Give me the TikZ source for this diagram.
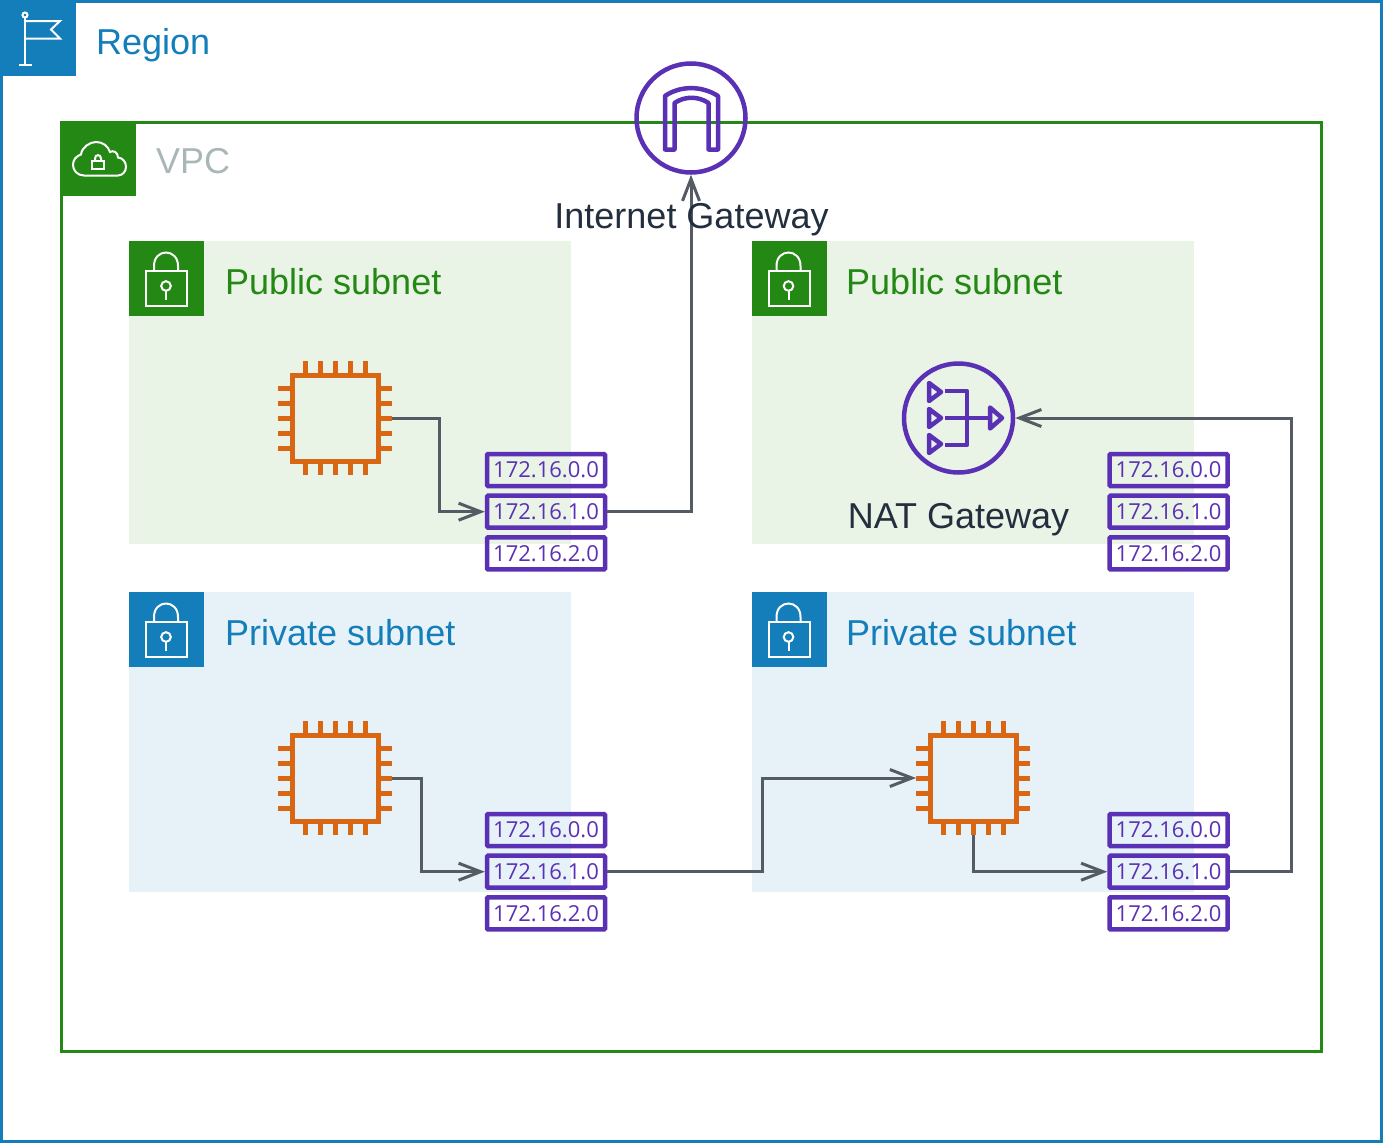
\documentclass[tikz,border=0pt]{standalone}
\usepackage{fontspec}
\setmainfont{Liberation Sans}
\newfontfamily\ipfont{Open Sans}
\usetikzlibrary{arrows.meta}
\definecolor{awsblue}{HTML}{147EBA}
\definecolor{awsgreen}{HTML}{248814}
\definecolor{pubfill}{HTML}{E9F3E6}
\definecolor{privfill}{HTML}{E6F2F8}
\definecolor{awspurple}{HTML}{5A30B5}
\definecolor{awsorange}{HTML}{D86613}
\definecolor{conncol}{HTML}{545B64}
\definecolor{inktext}{HTML}{232F3E}
\definecolor{vpcgrey}{HTML}{AAB7B8}
\tikzset{
  x=1pt,y=-1pt,
  big/.style={font=\fontsize{36}{40}\selectfont,anchor=base west,inner sep=0pt},
  bigc/.style={font=\fontsize{36}{40}\selectfont,anchor=base,inner sep=0pt,text=inktext},
  tab/.style={anchor=north west,minimum size=75pt,inner sep=0pt,outer sep=0pt,fill=#1},
  ipbox/.style={draw=awspurple,line width=4.5pt,rounded corners=1pt,minimum width=118pt,minimum height=32pt,inner sep=0pt,
    font=\ipfont\fontsize{22}{24}\selectfont,text=awspurple},
  chipanchor/.style={minimum size=114pt,inner sep=0pt,outer sep=0pt},
  conn/.style={draw=conncol,line width=3pt,-{Straight Barb[length=22pt,width=17pt,line width=3pt]}},
  iconline/.style={draw=white,line width=2pt},
  pics/padlock/.style={code={
    \draw[iconline] (17,30) rectangle (58,65);
    \draw[iconline] (25,30) -- (25,25) .. controls (25,7) and (49,7) .. (49,25) -- (49,30);
    \draw[iconline] (37,45) circle[radius=4.8pt];
    \draw[iconline] (37,50) -- (37,59);
  }},
  pics/chip/.style={code={
    \draw[draw=awsorange,line width=5pt] (-43,-43) rectangle (43,43);
    \foreach \d in {-30,-15,0,15,30}{
      \draw[draw=awsorange,line width=5pt] (\d,-57) -- (\d,-45);
      \draw[draw=awsorange,line width=5pt] (\d,45) -- (\d,57);
      \draw[draw=awsorange,line width=5pt] (-57,\d) -- (-45,\d);
      \draw[draw=awsorange,line width=5pt] (45,\d) -- (57,\d);
    }
  }},
}
\newcommand{\iptext}[1]{\raisebox{-2pt}{#1}}
\begin{document}
\begin{tikzpicture}
\useasboundingbox (0,0) rectangle (1383,1143);
\fill[white] (0,0) rectangle (1383,1143);
% Region
\draw[awsblue,line width=3pt] (1.5,1.5) rectangle (1381.5,1141.5);
\node[tab=awsblue] (regiontab) at (1,1) {};
\begin{scope}[line join=miter]
\draw[iconline] (25,17.5) -- (25,65);
\draw[iconline] (25,15) circle[radius=2.5pt];
\draw[iconline] (19,65) -- (32,65);
\draw[iconline] (25,21) -- (60,21) -- (51,29.5) -- (60,38.5) -- (25,38.5);
\end{scope}
\node[big,text=awsblue] (regionlabel) at (96,54) {Region};
% VPC
\draw[awsgreen,line width=3pt] (61.5,122.5) rectangle (1321.5,1051.5);
\node[tab=awsgreen] (vpctab) at (61,121) {};
\draw[iconline] (84,175.5) .. controls (77,175.5) and (73,170) .. (73,165)
  .. controls (73,160) and (76,156) .. (81,154.5)
  .. controls (82,147) and (90,142) .. (96,142)
  .. controls (103,142) and (108,146) .. (110,152)
  .. controls (113,150) and (118,152) .. (118,157.5)
  .. controls (123,158) and (126,162) .. (126,167)
  .. controls (126,172) and (122,175.5) .. (118,175.5) -- cycle;
\draw[iconline] (92,161) rectangle (104,168.5);
\draw[iconline] (95,161) -- (95,158.5) .. controls (95,154) and (101,154) .. (101,158.5) -- (101,161);
\node[big,text=vpcgrey] (vpclabel) at (156,173) {VPC};
% Subnets
\fill[pubfill] (129,241) rectangle (571,544);
\fill[pubfill] (751.5,241) rectangle (1194,544);
\fill[privfill] (129,592) rectangle (571,892);
\fill[privfill] (751.5,592) rectangle (1194,892);
\node[tab=awsgreen] (tabA) at (129,241) {};
\node[tab=awsgreen] (tabB) at (751.5,241) {};
\node[tab=awsblue] (tabC) at (129,592) {};
\node[tab=awsblue] (tabD) at (751.5,592) {};
\pic at (129,241) {padlock};
\pic at (751.5,241) {padlock};
\pic at (129,592) {padlock};
\pic at (751.5,592) {padlock};
\node[big,text=awsgreen] (labA) at (225,294) {Public subnet};
\node[big,text=awsgreen] (labB) at (846,294) {Public subnet};
\node[big,text=awsblue] (labC) at (225,645) {Private subnet};
\node[big,text=awsblue] (labD) at (846,645) {Private subnet};
% Chips
\node[chipanchor] (chipA) at (335,418) {};
\node[chipanchor] (chipC) at (335,778) {};
\node[chipanchor] (chipD) at (973,778) {};
\pic at (335,418) {chip};
\pic at (335,778) {chip};
\pic at (973,778) {chip};
% IP tables
\foreach \nm/\xx/\yy in {A/546/470,B/1168.5/470,C/546/830,D/1168.5/830}{
  \node[ipbox] (ip\nm0) at (\xx,\yy) {\iptext{172.16.0.0}};
  \node[ipbox] (ip\nm1) at (\xx,\yy+41.7) {\iptext{172.16.1.0}};
  \node[ipbox] (ip\nm2) at (\xx,\yy+83.4) {\iptext{172.16.2.0}};
}
% Internet gateway
\node[circle,draw=awspurple,line width=4.5pt,minimum size=109pt,inner sep=0pt] (igw) at (691,118) {};
\draw[awspurple,line width=4.5pt,line join=round] (665,149.5) -- (665,96) .. controls (680,85.5) and (702,85.5) .. (718,96) -- (718,149.5) -- (708.5,149.5) -- (708.5,103) .. controls (698,96) and (685,96) .. (674.5,103) -- (674.5,149.5) -- cycle;
% NAT gateway
\node[circle,draw=awspurple,line width=4.5pt,minimum size=109pt,inner sep=0pt] (nat) at (958.5,418) {};
\begin{scope}[awspurple,line width=4.5pt,line join=round]
\draw (929,383) -- (941,392) -- (929,401) -- cycle;
\draw (929,409) -- (941,418) -- (929,427) -- cycle;
\draw (929,435) -- (941,444) -- (929,453) -- cycle;
\draw (945,391) -- (967,391) -- (967,445) -- (945,445);
\draw (945,418) -- (990,418);
\draw (990,407.5) -- (1002,418) -- (990,428.5) -- cycle;
\end{scope}
% Connectors
\draw[conn] (chipA.east) -- ++(47,0) |- (ipA1.west);
\draw[conn] (ipA1.east) -| (igw.south);
\draw[conn] (chipC.east) -- ++(29.5,0) |- (ipC1.west);
\draw[conn] (ipC1.east) -- ++(155,0) |- (chipD.west);
\draw[conn] (chipD.south) |- (ipD1.west);
\draw[conn] (ipD1.east) -- ++(62,0) |- (nat.east);
% Gateway labels
\node[bigc] (igwlabel) at (691.5,228) {Internet Gateway};
\node[bigc] (natlabel) at (958.5,528) {NAT Gateway};
\end{tikzpicture}
\end{document}
